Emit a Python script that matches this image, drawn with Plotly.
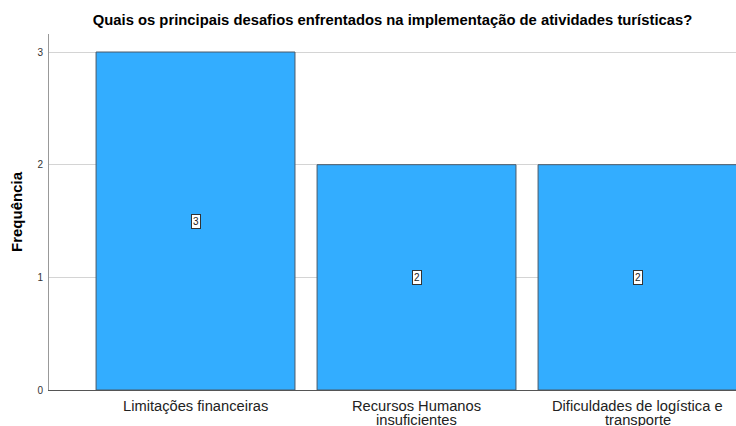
import plotly.graph_objects as go

categories = ["Limitações financeiras", "Recursos Humanos<br>insuficientes", "Dificuldades de logística e<br>transporte"]
frequencies = [3, 2, 2]
y_ticks = [0, 1, 2, 3]

title_text = "Quais os principais desafios enfrentados na implementação de atividades turísticas?"
y_title = "Frequência"

bar_color = "#33adff"
font_family = "Liberation Sans, Arial, sans-serif"
label_size = 14.7

fig = go.Figure()
fig.add_trace(go.Bar(
    x=list(range(len(categories))),
    y=frequencies,
    width=0.9,
    marker=dict(color=bar_color, line=dict(color="#4a5a68", width=1)),
    hoverinfo="skip",
))

# value boxes in the middle of each bar
for i, v in enumerate(frequencies):
    fig.add_annotation(
        x=i, y=v / 2, text=str(v), showarrow=False,
        font=dict(size=10, color="#222222", family=font_family),
        bgcolor="white", bordercolor="#333333", borderwidth=1, borderpad=1,
    )

# category labels under the axis, one line at a time for tight line spacing
for i, cat in enumerate(categories):
    for j, line in enumerate(cat.split("<br>")):
        fig.add_annotation(
            x=i, xref="x", y=0, yref="paper", yanchor="top",
            yshift=-6 - 14 * j, text=line, showarrow=False,
            font=dict(size=label_size, color="#222222", family=font_family),
        )

fig.update_layout(
    width=736, height=426,
    margin=dict(l=49, r=0, t=34, b=36),
    paper_bgcolor="white", plot_bgcolor="white",
    showlegend=False,
    font=dict(family=font_family, color="#222222"),
    title=dict(
        text="<b>" + title_text + "</b>",
        font=dict(size=14.8, color="#000000", family=font_family),
        x=0.5, xref="paper", xanchor="center",
        y=1 - 20 / 426, yanchor="middle",
    ),
    xaxis=dict(
        range=[-0.663, -0.663 + 687 / 221],
        tickvals=list(range(len(categories))),
        showticklabels=False,
        showline=True, linecolor="#555555", linewidth=1,
        showgrid=False, ticks="", zeroline=False,
        fixedrange=True,
    ),
    yaxis=dict(
        range=[0, 3.16],
        tickmode="array", tickvals=y_ticks,
        tickfont=dict(size=10, color="#333333"),
        ticklabelstandoff=3,
        showline=True, linecolor="#999999", linewidth=1,
        showgrid=True, gridcolor="#d4d4d4", gridwidth=1,
        ticks="", zeroline=False,
        title=dict(text="<b>" + y_title + "</b>", font=dict(size=15, color="#000000"), standoff=11),
        fixedrange=True,
    ),
)

fig.write_html("out.html")
